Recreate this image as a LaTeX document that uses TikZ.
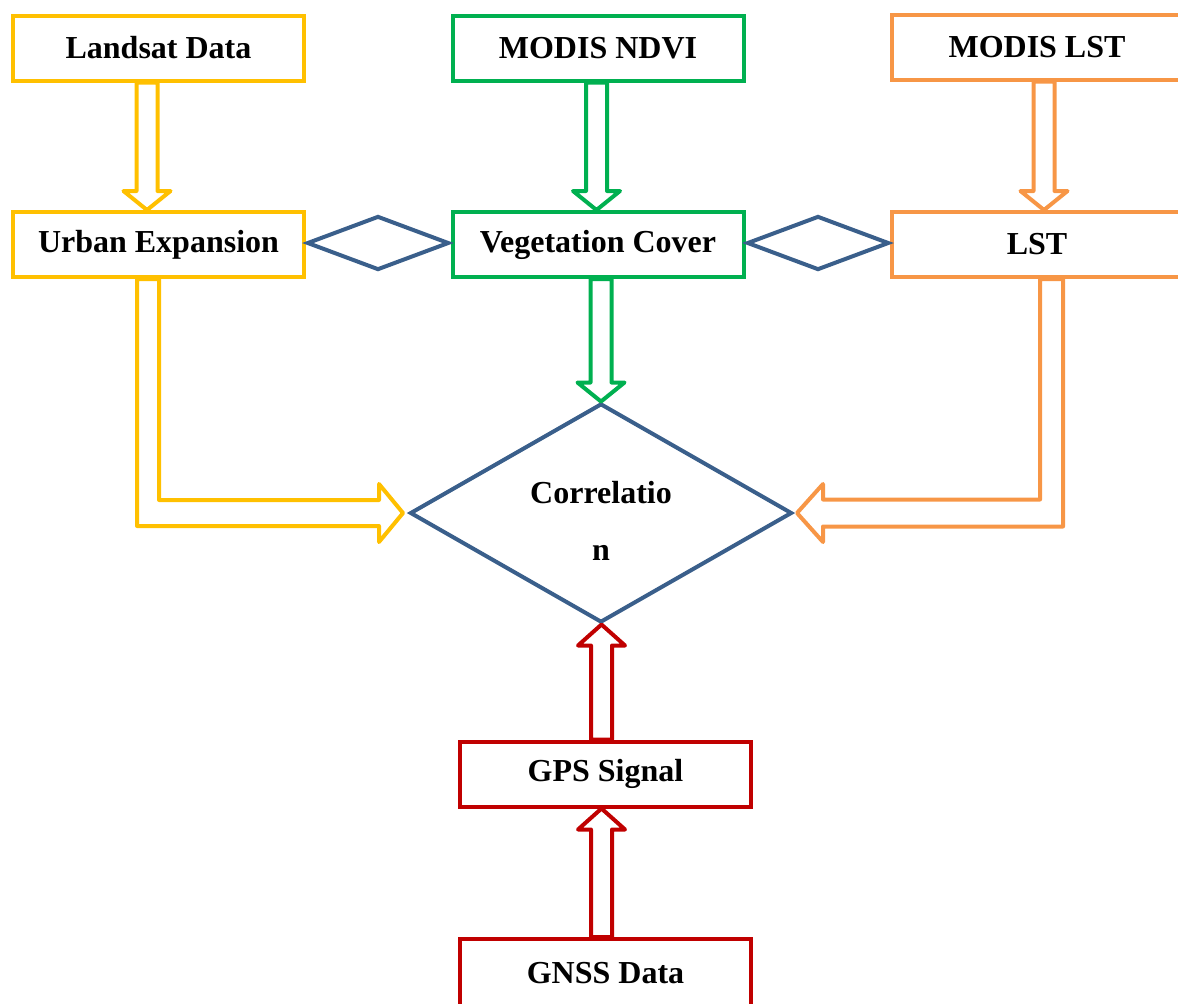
\documentclass[tikz,border=0pt]{standalone}
\usepackage{fontspec}
\setmainfont{Liberation Serif}
\usetikzlibrary{shapes.geometric,calc}
\definecolor{yellowc}{HTML}{FFC000}
\definecolor{greenc}{HTML}{00B050}
\definecolor{orangec}{HTML}{F79646}
\definecolor{bluec}{HTML}{3A5F8B}
\definecolor{redc}{HTML}{C00000}
\newcommand\blkdown[3]{%
  \draw[blk=#1] ($(#2)+(-10.5,0)$) -- ($(#3)+(-10.5,-19)$) -- ($(#3)+(-23.5,-19)$) -- (#3)
    -- ($(#3)+(23.5,-19)$) -- ($(#3)+(10.5,-19)$) -- ($(#2)+(10.5,0)$) -- cycle;}
\newcommand\blkup[3]{%
  \draw[blk=#1] ($(#2)+(-10.5,0)$) -- ($(#3)+(-10.5,21)$) -- ($(#3)+(-23.5,21)$) -- (#3)
    -- ($(#3)+(23.5,21)$) -- ($(#3)+(10.5,21)$) -- ($(#2)+(10.5,0)$) -- cycle;}
\begin{document}
\begin{tikzpicture}[x=0.5pt,y=-0.5pt,
  box/.style={draw=#1, line width=2pt, minimum width=145.5pt, minimum height=32.5pt,
    inner sep=0pt, font=\bfseries\fontsize{16}{19}\selectfont, text=black},
  rel/.style={diamond, draw=bluec, line width=2pt, minimum width=71pt,
    minimum height=27pt, inner sep=0pt},
  blk/.style={draw=#1, line width=2pt, line join=round}]
\useasboundingbox (0,0) rectangle (1178,1003);
\clip (0,0) rectangle (1178,1003);

% boxes
\node[box=yellowc] (landsat) at (158.5,48) {Landsat Data};
\node[box=yellowc] (urban) at (158.5,244.5) {Urban Expansion};
\node[box=greenc] (ndvi) at (598,48) {MODIS NDVI};
\node[box=greenc] (veg) at (598,244.5) {Vegetation Cover};
\node[box=orangec] (mlst) at (1037,47) {MODIS LST};
\node[box=orangec] (lst) at (1037,244.5) {LST};
\node[box=redc] (gps) at (605.5,774) {GPS Signal};
\node[box=redc, minimum height=34pt] (gnss) at (605.5,973) {GNSS Data};

% correlation diamond
\node[diamond, draw=bluec, line width=2pt, minimum width=191pt, minimum height=109.5pt,
  inner sep=0pt] (corr) at (601,513) {};
\node[font=\bfseries\fontsize{16}{28.5}\selectfont, align=center, inner sep=0pt]
  (corrtext) at (601,521) {Correlatio\\n};

% relation diamonds
\node[rel] (r1) at (378,243) {};
\node[rel] (r2) at (818,243) {};

% vertical block arrows
\coordinate (a1s) at (147,0 |- landsat.south);
\coordinate (a1e) at (147,0 |- urban.north);
\blkdown{yellowc}{a1s}{a1e}
\coordinate (a2s) at (596.5,0 |- ndvi.south);
\coordinate (a2e) at (596.5,0 |- veg.north);
\blkdown{greenc}{a2s}{a2e}
\coordinate (a3s) at (1044,0 |- mlst.south);
\coordinate (a3e) at (1044,0 |- lst.north);
\blkdown{orangec}{a3s}{a3e}
\coordinate (a4s) at (601,0 |- veg.south);
\blkdown{greenc}{a4s}{corr.north}
\coordinate (a5s) at (601.5,0 |- gps.north);
\coordinate (a5e) at (601.5,0 |- corr.south);
\blkup{redc}{a5s}{a5e}
\coordinate (a6s) at (601.5,0 |- gnss.north);
\coordinate (a6e) at (601.5,0 |- gps.south);
\blkup{redc}{a6s}{a6e}

% L-shaped block arrows
\coordinate (ls) at (148,0 |- urban.south);
\coordinate (le) at ($(corr.west)+(-5,0)$);
\coordinate (lc) at (ls |- le);
\draw[blk=yellowc] ($(ls)+(-11,0)$) -- ($(lc)+(-11,13)$) -- ($(le)+(-24,13)$)
  -- ($(le)+(-24,29)$) -- (le) -- ($(le)+(-24,-29)$) -- ($(le)+(-24,-13)$)
  -- ($(lc)+(11,-13)$) -- ($(ls)+(11,0)$) -- cycle;
\coordinate (rs) at (1051.5,0 |- lst.south);
\coordinate (re) at ($(corr.east)+(3,0)$);
\coordinate (rc) at (rs |- re);
\draw[blk=orangec] ($(rs)+(11.5,0)$) -- ($(rc)+(11.5,13.5)$) -- ($(re)+(26,13.5)$)
  -- ($(re)+(26,29)$) -- (re) -- ($(re)+(26,-29)$) -- ($(re)+(26,-13.5)$)
  -- ($(rc)+(-11.5,-13.5)$) -- ($(rs)+(-11.5,0)$) -- cycle;
\end{tikzpicture}
\end{document}
